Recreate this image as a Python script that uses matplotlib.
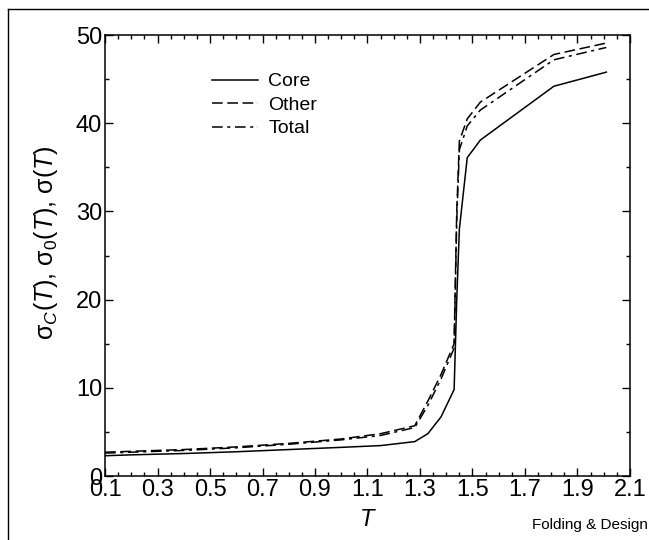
import matplotlib
matplotlib.use('Agg')
import matplotlib.pyplot as plt
from matplotlib.lines import Line2D

plt.rcParams['font.family'] = ['Liberation Sans', 'DejaVu Sans']
plt.rcParams['mathtext.fontset'] = 'custom'
plt.rcParams['mathtext.rm'] = 'Liberation Sans'
plt.rcParams['mathtext.it'] = 'Liberation Sans:italic'

# temperature grid and the three curves
T = [0.1, 0.2, 0.4, 0.6, 0.8, 1.0, 1.15, 1.28, 1.33, 1.38, 1.43, 1.44, 1.45,
     1.48, 1.53, 1.81, 2.01]
core = [2.3, 2.4, 2.55, 2.75, 3.0, 3.25, 3.45, 3.9, 4.8, 6.7, 9.8, 20, 28,
        36.1, 38.1, 44.2, 45.8]
other = [2.7, 2.8, 3.0, 3.3, 3.7, 4.2, 4.8, 5.7, 8.5, 11.5, 15, 30, 38,
         40.5, 42.4, 47.8, 49.1]
total = [2.6, 2.7, 2.9, 3.2, 3.6, 4.1, 4.6, 5.5, 8.0, 11.0, 14.5, 29, 37,
         39.7, 41.5, 47.2, 48.6]

xticks = [0.1, 0.3, 0.5, 0.7, 0.9, 1.1, 1.3, 1.5, 1.7, 1.9, 2.1]
yticks = [0, 10, 20, 30, 40, 50]

fig = plt.figure(figsize=(6.49, 5.4), dpi=100)
ax = fig.add_axes([0.1618, 0.1185, 0.8089, 0.8165])

ax.plot(T, core, color='black', lw=1.1, label='Core')
ax.plot(T, other, color='black', lw=1.1, dashes=(7, 3), label='Other')
ax.plot(T, total, color='black', lw=1.1, dashes=(7, 3, 2, 3), label='Total')

ax.set_xlim(0.1, 2.1)
ax.set_ylim(0, 50)
ax.set_xticks(xticks)
ax.set_xticklabels([str(t) for t in xticks])
ax.set_yticks(yticks)
ax.set_xticks([0.1 + 0.05 * i for i in range(41)], minor=True)
ax.set_yticks([5, 15, 25, 35, 45], minor=True)
ax.tick_params(which='both', direction='in', top=True, right=True,
               labelsize=17, pad=2)
ax.tick_params(which='major', length=6, width=1)
ax.tick_params(which='minor', length=3, width=1)
for s in ax.spines.values():
    s.set_linewidth(1.1)

ax.set_xlabel('$T$', fontsize=17, labelpad=6)
ax.set_ylabel(r'σ$_{\it C}$($T$), σ$_0$($T$), σ($T$)', fontsize=18)
ax.yaxis.set_label_coords(-0.085, 0.53)

leg = ax.legend(loc='upper left', bbox_to_anchor=(0.17, 0.954), frameon=False,
                fontsize=14, handlelength=2.4, handletextpad=0.5,
                labelspacing=0.3)

# outer frame (left and top only)
fig.add_artist(Line2D([8 / 649, 8 / 649], [0, 1 - 9 / 540], color='black', lw=1))
fig.add_artist(Line2D([8 / 649, 1], [1 - 9 / 540, 1 - 9 / 540], color='black', lw=1))

fig.text(0.998, 0.015, 'Folding & Design', ha='right', va='bottom', fontsize=11,
         family=['Liberation Sans Narrow', 'Liberation Sans', 'DejaVu Sans'])

fig.savefig('out.png', dpi=100)
